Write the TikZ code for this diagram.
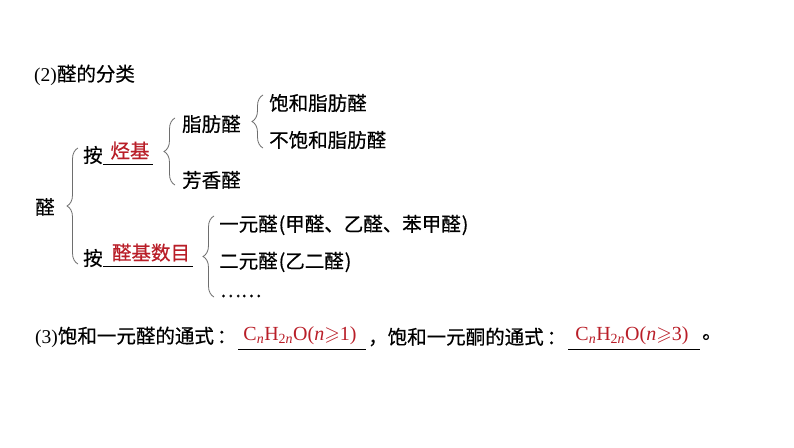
\documentclass[tikz,border=0pt]{standalone}
\usepackage{amssymb}
\usepackage{fontspec}
\setmainfont{Liberation Serif}
\newfontfamily\cjk[FakeBold=0.5]{Noto Sans CJK SC}
\usetikzlibrary{decorations.pathreplacing}
\definecolor{ansred}{RGB}{185,30,40}
\definecolor{bracegray}{RGB}{110,110,110}
\tikzset{
  txt/.style={anchor=west, inner sep=0pt, font=\fontsize{19.5}{22}\selectfont\cjk},
  ans/.style={anchor=base, inner sep=0pt, text=ansred, font=\fontsize{19.5}{22}\selectfont\cjk},
  frm/.style={anchor=base, inner sep=0pt, text=ansred, font=\fontsize{20}{22}\selectfont},
  brc/.style={draw=bracegray, line width=0.8pt, decorate, decoration={brace, amplitude=11pt}},
  uline/.style={draw=black, line width=0.7pt},
}
\begin{document}
\begin{tikzpicture}[x=1pt,y=-1pt]
\useasboundingbox[fill=white] (0,0) rectangle (794,447);
% (2)
\node[txt] (t2) at (34,75) {{\rmfamily (2)}醛的分类};
% root
\node[txt] (root) at (35,207) {醛};
% first branch
\node[txt] (an1) at (83,155) {按};
\coordinate (u1a) at (103,164);
\coordinate (u1b) at (153,164);
\draw[uline] (u1a) -- (u1b);
\node[ans] (a1) at (130,158) {烃基};
\node[txt] (zf) at (182,124) {脂肪醛};
\node[txt] (bh) at (269,103) {饱和脂肪醛};
\node[txt] (bbh) at (269,140) {不饱和脂肪醛};
\node[txt] (fx) at (182,180) {芳香醛};
% second branch
\node[txt] (an2) at (83,258) {按};
\coordinate (u2a) at (103,266);
\coordinate (u2b) at (193,266);
\draw[uline] (u2a) -- (u2b);
\node[ans] (a2) at (151,260) {醛基数目};
\node[txt] (y1) at (219,225) {一元醛\kern1pt(甲醛、乙醛、苯甲醛\kern1pt)};
\node[txt] (y2) at (219,262) {二元醛\kern1pt(乙二醛\kern1pt)};
\node[txt] (y3) at (220,296) {……};
% braces
\coordinate (b0t) at (78,148);
\coordinate (b0b) at (78,264);
\draw[brc] (b0b) -- (b0t);
\coordinate (b1t) at (175,118);
\coordinate (b1b) at (175,185);
\draw[brc] (b1b) -- (b1t);
\coordinate (b2t) at (263,95);
\coordinate (b2b) at (263,148);
\draw[brc] (b2b) -- (b2t);
\coordinate (b3t) at (214,216);
\coordinate (b3b) at (214,297);
\draw[brc] (b3b) -- (b3t);
% (3)
\node[txt] (t3) at (35,337) {{\rmfamily (3)}饱和一元醛的通式\kern3pt：};
\coordinate (u3a) at (238,349);
\coordinate (u3b) at (366,349);
\draw[uline] (u3a) -- (u3b);
\node[frm] (f1) at (300,340) {C\textsubscript{\textit{n}}H\textsubscript{2\textit{n}}O(\textit{n}$\geqslant$1)};
\node[txt] (t4) at (368,337) {，饱和一元酮的通式\kern3pt：};
\coordinate (u4a) at (568,349);
\coordinate (u4b) at (700,349);
\draw[uline] (u4a) -- (u4b);
\node[frm] (f2) at (632,340) {C\textsubscript{\textit{n}}H\textsubscript{2\textit{n}}O(\textit{n}$\geqslant$3)};
\node[txt] (t5) at (702,337) {。};
\end{tikzpicture}
\end{document}
